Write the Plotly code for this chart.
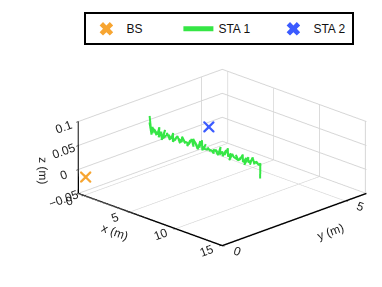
import plotly.graph_objects as go

# ---- data ----
bs_x = [0.2]
bs_y = [0.0]
bs_z = [-0.01]

sta2_x = [3.7]
sta2_y = [3.7]
sta2_z = [0.05]

sta1_x = [1.00, 1.05, 1.12, 1.26, 1.38, 1.55, 1.66, 1.82, 1.93, 2.10,
          2.22, 2.38, 2.50, 2.64, 2.78, 2.92, 3.06, 3.20, 3.33, 3.48,
          3.62, 3.75, 3.90, 4.03, 4.18, 4.31, 4.45, 4.60, 4.72, 4.87,
          5.01, 5.14, 5.28, 5.42, 5.56, 5.70, 5.83, 5.98, 6.11, 6.25,
          6.39, 6.53, 6.66, 6.80, 6.94, 7.08, 7.22, 7.35, 7.50, 7.63,
          7.77, 7.91, 8.05, 8.18, 8.33, 8.46, 8.60, 8.74, 8.88, 9.02,
          9.15, 9.30, 9.43, 9.57, 9.71, 9.85, 9.99, 10.12, 10.27, 10.40,
          10.54, 10.68, 10.82, 10.95, 11.10, 11.23, 11.37, 11.51, 11.65, 11.79,
          11.92, 12.07, 12.20, 12.34, 12.48, 12.62, 12.75, 12.90, 13.02, 13.05]
sta1_y = [2.30, 2.36, 2.25, 2.33, 2.27, 2.38, 2.24, 2.31, 2.35, 2.26,
          2.32, 2.28, 2.37, 2.23, 2.34, 2.29, 2.36, 2.25, 2.31, 2.33,
          2.27, 2.38, 2.24, 2.30, 2.35, 2.26, 2.32, 2.28, 2.37, 2.25,
          2.34, 2.29, 2.36, 2.24, 2.31, 2.33, 2.27, 2.38, 2.25, 2.30,
          2.35, 2.26, 2.32, 2.28, 2.37, 2.23, 2.34, 2.29, 2.36, 2.25,
          2.31, 2.33, 2.27, 2.38, 2.24, 2.30, 2.35, 2.26, 2.32, 2.28,
          2.37, 2.25, 2.34, 2.29, 2.36, 2.24, 2.31, 2.33, 2.27, 2.38,
          2.25, 2.30, 2.35, 2.26, 2.32, 2.28, 2.37, 2.23, 2.34, 2.29,
          2.36, 2.25, 2.31, 2.33, 2.27, 2.38, 2.24, 2.30, 2.32, 2.30]
sta1_z = [0.080, 0.040, 0.068, 0.045, 0.060, 0.042, 0.058, 0.047, 0.062, 0.044,
          0.055, 0.040, 0.060, 0.046, 0.052, 0.058, 0.043, 0.057, 0.048, 0.061,
          0.045, 0.054, 0.050, 0.059, 0.044, 0.056, 0.049, 0.062, 0.047, 0.055,
          0.051, 0.046, 0.058, 0.052, 0.063, 0.048, 0.066, 0.050, 0.060, 0.047,
          0.064, 0.053, 0.068, 0.049, 0.061, 0.055, 0.052, 0.058, 0.050, 0.057,
          0.054, 0.049, 0.059, 0.053, 0.062, 0.050, 0.067, 0.054, 0.060, 0.052,
          0.064, 0.057, 0.070, 0.055, 0.061, 0.050, 0.063, 0.056, 0.059, 0.052,
          0.066, 0.054, 0.061, 0.058, 0.069, 0.055, 0.063, 0.052, 0.067, 0.058,
          0.062, 0.056, 0.071, 0.057, 0.065, 0.059, 0.068, 0.060, 0.064, 0.033]

x_range = [-0.6, 15.1]
y_range = [0.0, 5.85]
z_range = [-0.05, 0.1]
x_ticks = [0, 5, 10, 15]
y_ticks = [0, 5]
z_ticks = [-0.05, 0, 0.05, 0.1]
z_ticktext = ["\u22120.05", "0", "0.05", "0.1"]

FONT = "Liberation Sans, Arial, sans-serif"

fig = go.Figure()
fig.add_trace(go.Scatter3d(x=bs_x, y=bs_y, z=bs_z, mode="markers", name="BS",
                           legendwidth=47,
                           marker=dict(symbol="x", size=2.6, color="#F7A531")))
fig.add_trace(go.Scatter3d(x=sta1_x, y=sta1_y, z=sta1_z, mode="lines", name="STA 1",
                           legendwidth=50,
                           line=dict(color="#35E645", width=4)))
fig.add_trace(go.Scatter3d(x=sta2_x, y=sta2_y, z=sta2_z, mode="markers", name="STA 2",
                           legendwidth=34,
                           marker=dict(symbol="x", size=2.6, color="#3B5BFF")))

axis_common = dict(
    showbackground=True, backgroundcolor="white",
    gridcolor="#D6D6D6", gridwidth=2,
    showline=True, linecolor="black", linewidth=3,
    ticks="outside", tickcolor="black", ticklen=3,
    zeroline=False, showspikes=False,
    tickfont=dict(family=FONT, size=12, color="#222"),
    title_font=dict(family=FONT, size=12, color="#222"),
)

cshift = -0.108
fig.update_layout(
    width=382, height=287,
    margin=dict(l=0, r=0, t=0, b=0),
    paper_bgcolor="white",
    font=dict(family=FONT, size=12, color="#222"),
    showlegend=True,
    legend=dict(orientation="h", x=0.2, y=0.985, xanchor="left", yanchor="top",
                bordercolor="black", borderwidth=2, bgcolor="white",
                font=dict(family=FONT, size=12, color="#111"),
                itemsizing="constant"),
    scene=dict(
        domain=dict(x=[0.02, 1.0], y=[0.041, 0.921]),
        xaxis=dict(range=x_range, tickvals=x_ticks, title=dict(text="x (m)"), **axis_common),
        yaxis=dict(range=y_range, tickvals=y_ticks, title=dict(text="y (m)"), **axis_common),
        zaxis=dict(range=z_range, tickvals=z_ticks, ticktext=z_ticktext,
                   title=dict(text="z (m)"), **axis_common),
        aspectmode="manual",
        aspectratio=dict(x=1.61, y=1.61, z=0.61),
        camera=dict(eye=dict(x=1.2 + cshift, y=-1.2 + cshift, z=0.66),
                    center=dict(x=cshift, y=cshift, z=0),
                    projection=dict(type="orthographic")),
    ),
)

fig.write_html("out.html")
